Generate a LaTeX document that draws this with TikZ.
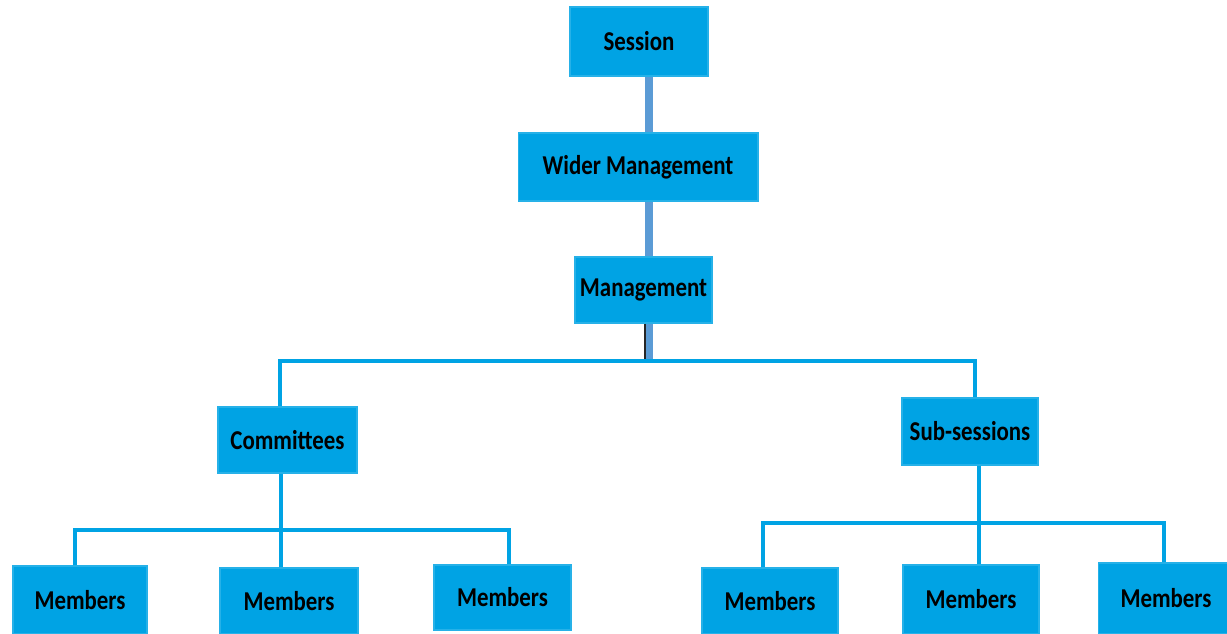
\documentclass[tikz,border=0pt]{standalone}
\usepackage{fontspec}
\setmainfont{Carlito}[FakeStretch=0.84]
\usetikzlibrary{positioning,calc}
\definecolor{boxblue}{RGB}{0,163,228}
\definecolor{linkblue}{RGB}{91,155,213}

\begin{document}
\begin{tikzpicture}[x=0.02cm,y=-0.02cm,font=\fontsize{15.5}{18}\selectfont\bfseries,
 unit/.style={fill=boxblue,draw=boxblue!85!white,line width=0.6pt,align=center,inner sep=2pt,minimum height=1.34cm},
 link/.style={draw=linkblue,line width=0.15cm},
 tie/.style={draw=boxblue,line width=0.09cm}]

\useasboundingbox (0,0) rectangle (1227,634);

\node[unit,minimum width=2.76cm,minimum height=1.38cm] (session) at (639,41.5) {Session};
\node[unit,minimum width=4.8cm,minimum height=1.36cm] (wider) at (638,167) {Wider Management};
\node[unit,minimum width=2.74cm,minimum height=1.32cm] (mgmt) at (643.5,290) {Management};

\node[unit,minimum width=2.78cm,minimum height=1.32cm] (cttee) at (287.5,440) {Committees};
\node[unit,minimum width=2.72cm] (subs) at (970,431.5) {Sub-sessions};

\node[unit,minimum width=2.68cm,minimum height=1.36cm] (m1) at (80,600) {Members};
\node[unit,minimum width=2.76cm,minimum height=1.32cm] (m2) at (289,601) {Members};
\node[unit,minimum width=2.74cm,minimum height=1.30cm] (m3) at (502.5,597.5) {Members};
\node[unit,minimum width=2.72cm,minimum height=1.32cm] (m4) at (770,601) {Members};
\node[unit,minimum width=2.72cm,minimum height=1.38cm] (m5) at (971,599.5) {Members};
\node[unit,minimum width=2.72cm,minimum height=1.42cm] (m6) at (1166,598.5) {Members};

% top chain
\coordinate (hub) at (649,361);
\draw[link] (session.south -| hub) -- (wider.north -| hub);
\draw[link] (wider.south -| hub) -- (mgmt.north -| hub);
\draw[link] (mgmt.south -| hub) -- (hub);
\draw[black!85,line width=0.6pt] ($(mgmt.south -| hub)+(-4,0)$) -- ($(hub)+(-4,0)$);

% main split
\coordinate (cdrop) at (280,361);
\coordinate (sdrop) at (975,361);
\draw[tie] (cttee.north -| cdrop) |- (hub) -| (subs.north -| sdrop);

% committees
\coordinate (cfork) at (281,530);
\draw[tie] (cttee.south -| cfork) -- (cfork);
\foreach \n/\dx in {m1/-5,m2/-8,m3/6.5}{\draw[tie] ($(\n.north)+(\dx,0)$) |- (cfork);}

% sub-sessions
\coordinate (sfork) at (979,523);
\draw[tie] (subs.south -| sfork) -- (sfork);
\foreach \n/\dx in {m4/-7,m5/8,m6/-2}{\draw[tie] ($(\n.north)+(\dx,0)$) |- (sfork);}

\end{tikzpicture}
\end{document}
